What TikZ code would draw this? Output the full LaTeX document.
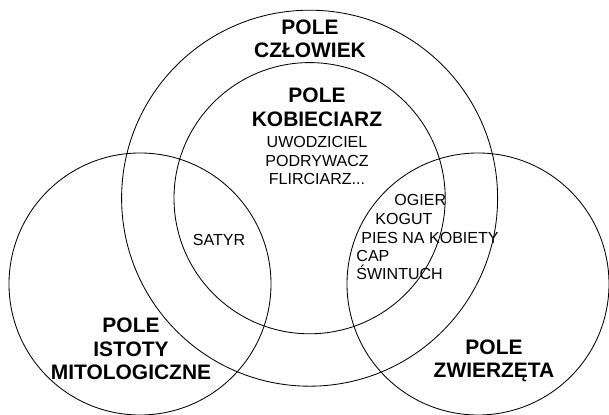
\documentclass[tikz,border=0pt]{standalone}
\usepackage{fontspec}
\setmainfont{Liberation Sans}
\usepackage{tikz}

\begin{document}
\begin{tikzpicture}[line width=0.6pt,
    title/.style={font=\fontsize{14.9}{16.6}\selectfont\bfseries, align=center, inner sep=0pt},
    word/.style={font=\fontsize{11.4}{13.2}\selectfont, align=center, inner sep=0pt},
    entry/.style={font=\fontsize{11.4}{13.2}\selectfont, anchor=base west, inner sep=0pt}]
  % 1 unit = 40 px of the sketch, y counted from the bottom
  \useasboundingbox (0,0) rectangle (15.225,10.375);
  \draw (7.74,5.42) circle (4.7);    % czlowiek
  \draw (7.74,5.42) circle (3.39);   % kobieciarz
  \draw (3.5,3.275) circle (3.275);  % istoty
  \draw (11.95,3.275) circle (3.275); % zwierzeta
  \node[title] (czlowiek) at (7.75,9.41) {POLE\\CZŁOWIEK};
  \node[title] (kobieciarz) at (7.925,7.69) {POLE\\KOBIECIARZ};
  \node[word] (synonimy) at (7.925,6.36) {UWODZICIEL\\PODRYWACZ\\FLIRCIARZ...};
  \node[word] (satyr) at (5.475,4.375) {SATYR};
  \node[entry] (ogier) at (9.85,5.23) {OGIER};
  \node[entry] (kogut) at (9.375,4.76) {KOGUT};
  \node[entry] (pies) at (9.025,4.28) {PIES NA KOBIETY};
  \node[entry] (cap) at (8.9,3.83) {CAP};
  \node[entry] (swintuch) at (8.9,3.38) {ŚWINTUCH};
  \node[title] (istoty) at (3.275,1.65) {POLE\\ISTOTY\\MITOLOGICZNE};
  \node[title] (zwierzeta) at (12.35,1.35) {POLE\\ZWIERZĘTA};
\end{tikzpicture}
\end{document}
